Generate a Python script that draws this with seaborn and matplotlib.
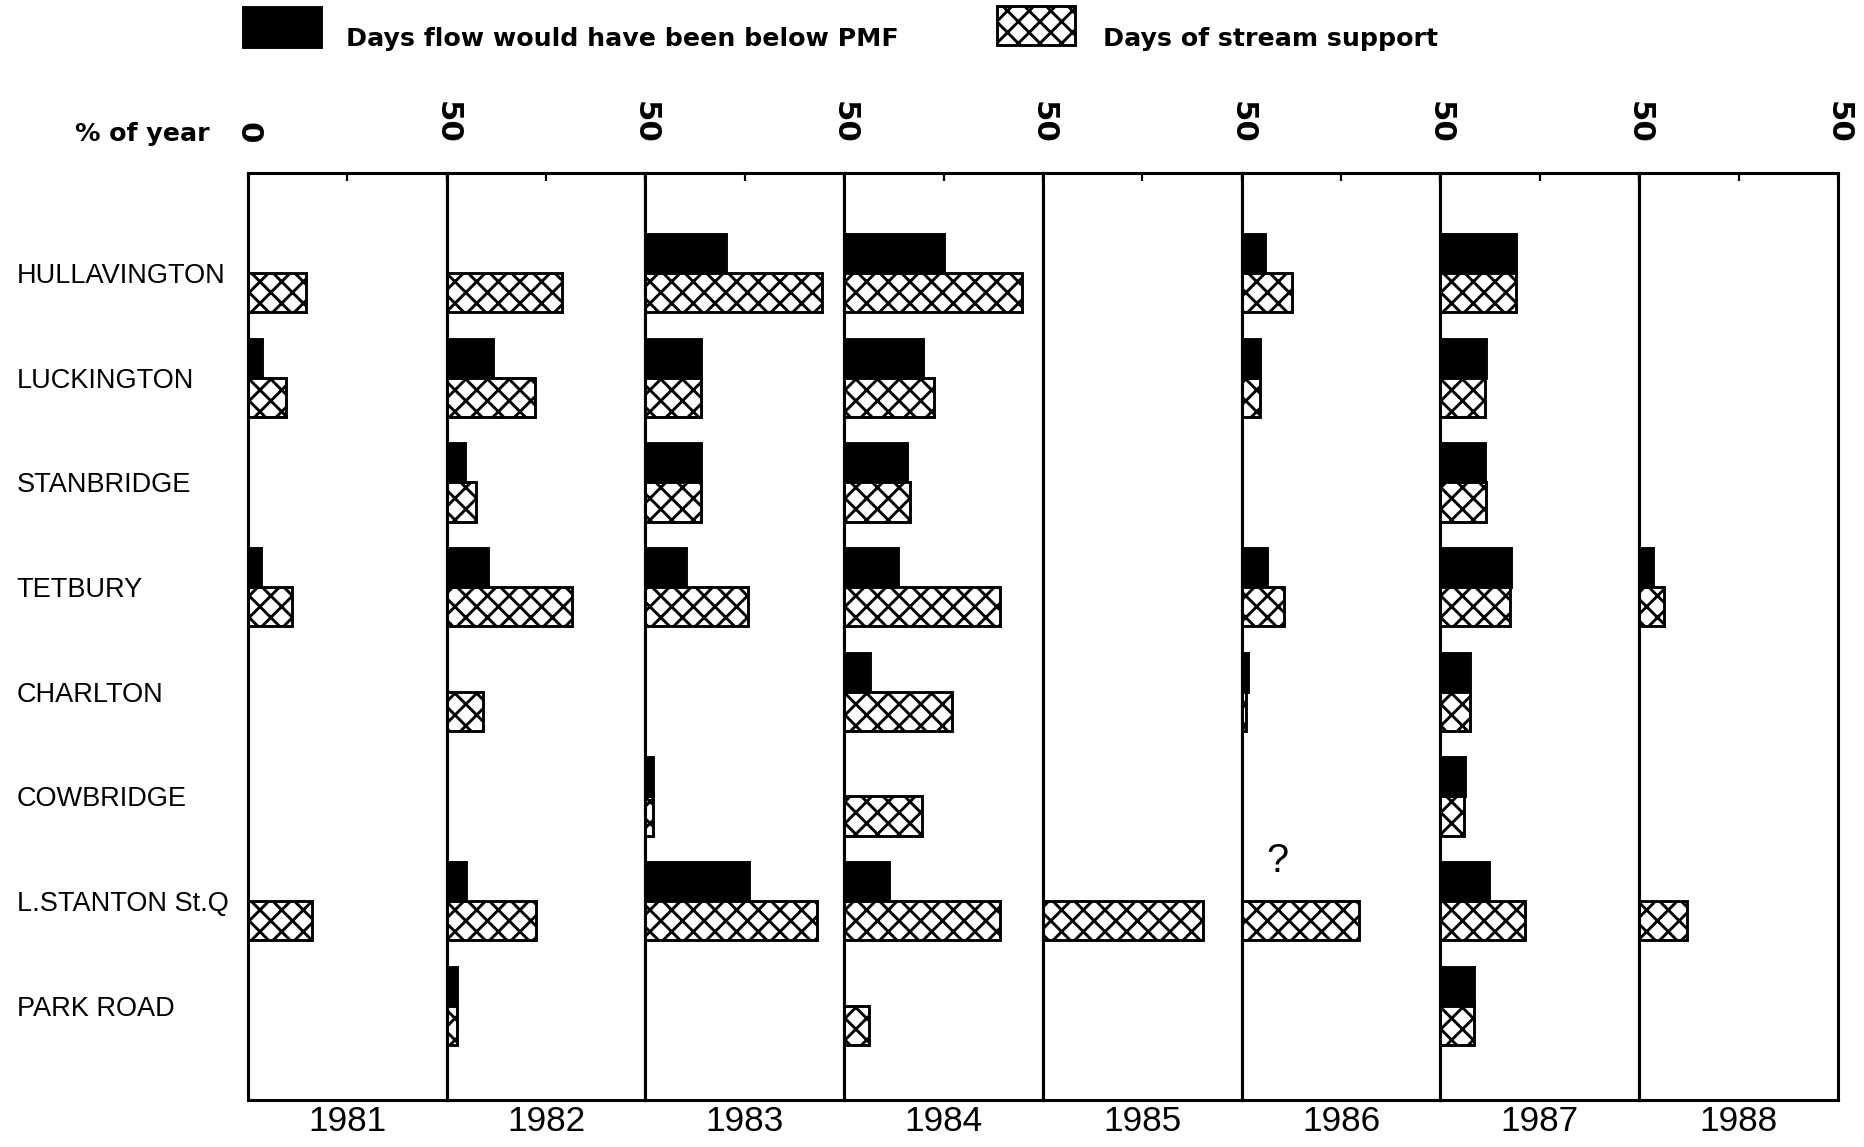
import pandas as pd
import matplotlib
matplotlib.use('Agg')
import matplotlib.pyplot as plt
from matplotlib.patches import Rectangle
import seaborn as sns

# stations top to bottom, one panel per year
stations = ['HULLAVINGTON', 'LUCKINGTON', 'STANBRIDGE', 'TETBURY',
            'CHARLTON', 'COWBRIDGE', 'L.STANTON St.Q', 'PARK ROAD']
years = ['1981', '1982', '1983', '1984', '1985', '1986', '1987', '1988']
series = ['Days flow would have been below PMF', 'Days of stream support']

# % of year, rows = years, columns = stations
below_pmf = [
    [0, 3.5, 0, 3.3, 0, 0, 0, 0],
    [0, 11.6, 4.7, 10.3, 0, 0, 4.9, 2.5],
    [20.4, 14.1, 14.1, 10.2, 0, 2.0, 26.0, 0],
    [25.0, 19.9, 15.7, 13.5, 6.6, 0, 11.4, 0],
    [0, 0, 0, 0, 0, 0, 0, 0],
    [5.9, 4.7, 0, 6.5, 1.5, 0, 0, 0],
    [19.0, 11.4, 11.1, 17.8, 7.5, 6.3, 12.3, 8.4],
    [0, 0, 0, 3.5, 0, 0, 0, 0],
]
stream_support = [
    [14.7, 9.6, 0, 11.2, 0, 0, 16.2, 0],
    [28.9, 22.2, 7.3, 31.6, 9.2, 0, 22.4, 2.5],
    [44.5, 14.1, 14.1, 25.8, 0, 2.0, 43.2, 0],
    [44.7, 22.6, 16.6, 39.2, 27.2, 19.5, 39.2, 6.3],
    [0, 0, 0, 0, 0, 0, 40.4, 0],
    [12.6, 4.7, 0, 10.6, 1.0, 0, 29.4, 0],
    [19.0, 11.1, 11.4, 17.5, 7.5, 6.0, 21.4, 8.4],
    [0, 0, 0, 6.2, 0, 0, 12.1, 0],
]

rows = []
for i, yr in enumerate(years):
    for j, st in enumerate(stations):
        rows.append((yr, st, series[0], below_pmf[i][j]))
        rows.append((yr, st, series[1], stream_support[i][j]))
df = pd.DataFrame(rows, columns=['year', 'station', 'series', 'pct'])

sns.set_style('white')
plt.rcParams['font.family'] = ['Liberation Sans', 'DejaVu Sans']
plt.rcParams['hatch.linewidth'] = 1.6
plt.rcParams['hatch.color'] = 'black'
for key in ['text.color', 'axes.labelcolor', 'xtick.color', 'ytick.color']:
    plt.rcParams[key] = 'black'

W, H = 1864, 1147
fig, axes = plt.subplots(1, 8, figsize=(W / 130, H / 130), dpi=130)
fig.subplots_adjust(left=0.133, right=0.986, top=0.849, bottom=0.041, wspace=0)

tick_font = dict(fontfamily='DejaVu Sans', fontweight='bold', fontsize=17, rotation=270)

for i, (ax, yr) in enumerate(zip(axes, years)):
    sub = df[df['year'] == yr]
    sns.barplot(data=sub, x='pct', y='station', hue='series', order=stations,
                hue_order=series, palette={series[0]: 'black', series[1]: 'white'},
                edgecolor='black', linewidth=1.6, width=0.75, saturation=1,
                errorbar=None, legend=False, ax=ax)
    for bar in ax.containers[1]:
        bar.set_hatch('xx')

    ax.set_xlim(0, 50)
    ax.set_ylim(7.9, -0.955)

    labels = ['0', '', '50'] if i == 0 else ['', '', '50']
    ax.set_xticks([0, 25, 50], labels=labels, **tick_font)
    ax.xaxis.tick_top()
    ax.tick_params(axis='x', direction='in', length=4.5, width=1.2, pad=16.5, color='black')
    ax.set_xlabel(yr, fontsize=19.5, labelpad=3)
    ax.xaxis.set_label_position('bottom')
    ax.set_ylabel('')

    if i == 0:
        ax.tick_params(axis='y', length=0, pad=128, labelsize=15)
        for t in ax.get_yticklabels():
            t.set_ha('left')
    else:
        ax.tick_params(axis='y', left=False, labelleft=False)

    for sp in ax.spines.values():
        sp.set_linewidth(1.7)
        sp.set_color('black')

axes[5].text(9, 5.62, '?', fontsize=22, ha='center', va='center')

fig.text(75 / W, 1 - 134 / H, '% of year', fontfamily='DejaVu Sans',
         fontweight='bold', fontsize=14, ha='left', va='center')

# legend keys drawn in figure coordinates
fig.add_artist(Rectangle((243 / W, 1 - 47 / H), 78 / W, 40 / H, transform=fig.transFigure,
                         facecolor='black', edgecolor='black', linewidth=1.6))
fig.add_artist(Rectangle((997 / W, 1 - 45 / H), 78 / W, 39 / H, transform=fig.transFigure,
                         facecolor='white', edgecolor='black', hatch='xx', linewidth=1.6))
leg_font = dict(fontfamily='DejaVu Sans', fontweight='bold', fontsize=14,
                ha='left', va='baseline')
fig.text(346 / W, 1 - 46 / H, series[0], **leg_font)
fig.text(1103 / W, 1 - 46 / H, series[1], **leg_font)

fig.savefig('out.png', dpi=130)
